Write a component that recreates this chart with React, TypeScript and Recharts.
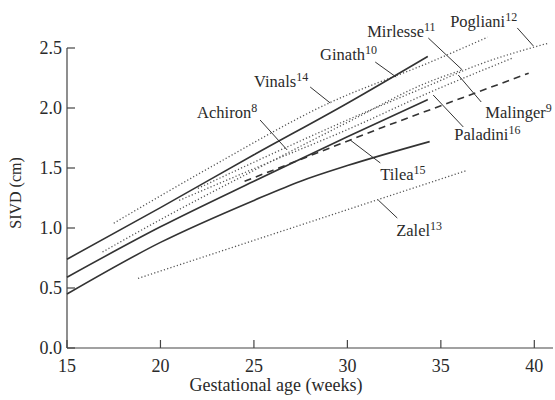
import { Line, LineChart, ReferenceDot, ReferenceLine, XAxis, YAxis } from 'recharts';

type Pt = [number, number];

const weekTicks = [15, 20, 25, 30, 35, 40];
const sivdTicks = [0, 0.5, 1, 1.5, 2, 2.5];

// solid reference curves
const upperSolid: Pt[] = [[15, 0.74], [20, 1.17], [25, 1.61], [30, 2.04], [34.3, 2.43]];
const middleSolid: Pt[] = [[15, 0.59], [20, 1.01], [25, 1.39], [30, 1.76], [34.3, 2.07]];
const tilea: Pt[] = [[15, 0.45], [20, 0.88], [25, 1.23], [27.5, 1.39], [30, 1.52], [34.4, 1.72]];
// dashed
const malinger: Pt[] = [[24.5, 1.39], [26, 1.48], [31.9, 1.84], [39.7, 2.29]];
// dotted
const vinals: Pt[] = [[17.5, 1.04], [22.6, 1.5], [29, 2.04], [34.4, 2.38], [37.5, 2.59]];
const achiron: Pt[] = [[16.9, 0.8], [20, 1.07], [25, 1.48], [30, 1.88], [34.4, 2.22], [36.2, 2.32]];
const paladini: Pt[] = [[21, 1.23], [26, 1.56], [30, 1.82], [34.4, 2.13], [38.9, 2.42]];
const pogliani: Pt[] = [[22, 1.33], [26, 1.62], [30, 1.9], [34.4, 2.19], [37, 2.36], [40.75, 2.54]];
const zalel: Pt[] = [[18.8, 0.58], [36.4, 1.48]];

// annotations: name, reference number, text anchor, leader start, leader end
const noteNames = ['Vinals', 'Achiron', 'Ginath', 'Mirlesse', 'Pogliani', 'Malinger', 'Paladini', 'Tilea', 'Zalel'];
const noteRefs = ['14', '8', '10', '11', '12', '9', '16', '15', '13'];
const noteAt: Pt[] = [
  [25.01, 2.175], [21.96, 1.917], [28.54, 2.4], [31.06, 2.592], [35.5, 2.675],
  [37.38, 1.917], [35.72, 1.733], [31.76, 1.4], [32.61, 0.933],
];
const leaderFrom: Pt[] = [
  [28.01, 2.175], [25.33, 1.9], [31.49, 2.383], [34.33, 2.583], [39.09, 2.667],
  [37.16, 2.05], [36.2, 1.842], [31.76, 1.542], [32.67, 1.083],
];
const leaderTo: Pt[] = [
  [29.08, 2.042], [26.78, 1.65], [32.61, 2.258], [36.15, 2.317], [39.95, 2.517],
  [35.93, 2.275], [34.59, 2.108], [30.15, 1.733], [31.65, 1.233],
];

const FONT = '"Liberation Serif", "Times New Roman", serif';
const INK = '#2a2a2a';

const rows = (pts: Pt[]) => pts.map(([x, y]) => ({ x, y }));

function NoteText(props: { cx?: number; cy?: number; name: string; refNo: string }) {
  const { cx, cy, name, refNo } = props;
  if (cx === undefined || cy === undefined) return null;
  return (
    <text x={cx} y={cy} fontFamily={FONT} fontSize={16.5} fill={INK}>
      {name}
      <tspan dy={-6} fontSize={12}>{refNo}</tspan>
    </text>
  );
}

export default function App() {
  const solid = { stroke: '#333', strokeWidth: 1.6 };
  const dotted = { stroke: '#555', strokeWidth: 1.3, strokeDasharray: '1.2 2.2' };

  return (
    <div style={{ position: 'absolute', left: 0, top: 0 }}>
      <LineChart width={555} height={400} margin={{ top: 36, right: 2, bottom: 0, left: 0 }}>
        <XAxis
          type="number"
          dataKey="x"
          domain={[15, 41]}
          ticks={weekTicks}
          height={52}
          tickSize={-8}
          tickMargin={19}
          axisLine={{ stroke: '#444', strokeWidth: 1.2 }}
          tickLine={{ stroke: '#444', strokeWidth: 1.2 }}
          tick={{ fontFamily: FONT, fontSize: 18, fill: INK }}
          label={{
            content: ({ viewBox }: any) => (
              <text
                x={viewBox.x + viewBox.width / 2 - 34}
                y={391}
                textAnchor="middle"
                fontFamily={FONT}
                fontSize={18}
                fill={INK}
              >
                Gestational age (weeks)
              </text>
            ),
          }}
        />
        <YAxis
          type="number"
          domain={[0, 2.6]}
          ticks={sivdTicks}
          width={67}
          tickSize={-8}
          tickMargin={13}
          axisLine={false}
          tickLine={{ stroke: '#444', strokeWidth: 1.2 }}
          tick={{ fontFamily: FONT, fontSize: 18, fill: INK }}
          tickFormatter={(v: number) => v.toFixed(1)}
          label={{
            content: () => (
              <text
                x={21}
                y={193}
                transform="rotate(-90 21 193)"
                textAnchor="middle"
                fontFamily={FONT}
                fontSize={16}
                fill={INK}
              >
                SIVD (cm)
              </text>
            ),
          }}
        />
        <ReferenceLine segment={[{ x: 15, y: 0 }, { x: 15, y: 2.5 }]} stroke="#444" strokeWidth={1.2} />

        <Line data={rows(zalel)} dataKey="y" type="linear" dot={false} {...dotted} isAnimationActive={false} />
        <Line data={rows(pogliani)} dataKey="y" type="monotone" dot={false} {...dotted} isAnimationActive={false} />
        <Line data={rows(paladini)} dataKey="y" type="monotone" dot={false} {...dotted} isAnimationActive={false} />
        <Line data={rows(achiron)} dataKey="y" type="monotone" dot={false} {...dotted} isAnimationActive={false} />
        <Line data={rows(vinals)} dataKey="y" type="monotone" dot={false} {...dotted} isAnimationActive={false} />
        <Line
          data={rows(malinger)}
          dataKey="y"
          type="linear"
          dot={false}
          stroke="#333"
          strokeWidth={1.6}
          strokeDasharray="7 5"
          isAnimationActive={false}
        />
        <Line data={rows(tilea)} dataKey="y" type="monotone" dot={false} {...solid} isAnimationActive={false} />
        <Line data={rows(middleSolid)} dataKey="y" type="monotone" dot={false} {...solid} isAnimationActive={false} />
        <Line data={rows(upperSolid)} dataKey="y" type="monotone" dot={false} {...solid} isAnimationActive={false} />

        {noteNames.map((name, i) => (
          <ReferenceLine
            key={`lead-${name}`}
            segment={[
              { x: leaderFrom[i][0], y: leaderFrom[i][1] },
              { x: leaderTo[i][0], y: leaderTo[i][1] },
            ]}
            stroke="#333"
            strokeWidth={1}
            ifOverflow="visible"
          />
        ))}
        {noteNames.map((name, i) => (
          <ReferenceDot
            key={`note-${name}`}
            x={noteAt[i][0]}
            y={noteAt[i][1]}
            r={0}
            ifOverflow="visible"
            shape={(p: any) => <NoteText cx={p.cx} cy={p.cy} name={name} refNo={noteRefs[i]} />}
          />
        ))}
      </LineChart>
    </div>
  );
}
